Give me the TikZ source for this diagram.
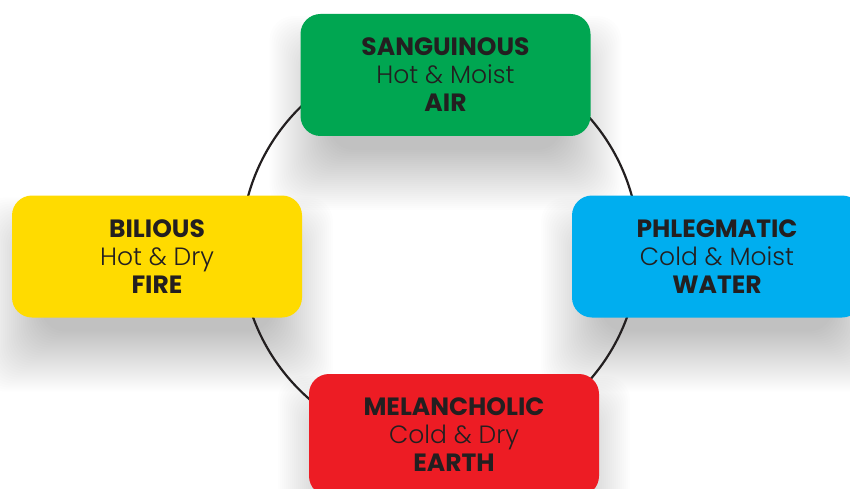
\documentclass[tikz,border=0pt]{standalone}
\usepackage{fontspec}
\setmainfont{Poppins}
\newfontfamily\lightfont{Poppins Light}
\definecolor{ink}{HTML}{231F20}
\definecolor{airgreen}{HTML}{00A651}
\definecolor{fireyellow}{HTML}{FFDB00}
\definecolor{waterblue}{HTML}{00AEEF}
\definecolor{earthred}{HTML}{ED1C24}
\newcommand\softshadow[2]{%
  \foreach \g in {-24,-22,...,36}{
    \fill[black,opacity=0.0068,rounded corners=24pt]
      ({#1-140-\g},{#2-61+38-\g}) rectangle ({#1+140+\g},{#2+61+38+\g});
  }}
\tikzset{
  humour/.style={rectangle, rounded corners=20pt, minimum width=290pt,
    minimum height=122pt, inner sep=0pt, align=center, text=ink,
    font=\fontsize{25}{28}\selectfont},
  ring/.style={draw=ink, line width=2.2pt}
}
\begin{document}
\begin{tikzpicture}[x=1pt,y=-1pt]
\useasboundingbox[fill=white] (0,0) rectangle (850,489);
\softshadow{445.5}{75}
\softshadow{157}{256.5}
\softshadow{717}{256.5}
\softshadow{454}{435}
\node[circle, minimum size=398pt, ring, inner sep=0pt] (cycle) at (440,249) {};
\node[humour, fill=airgreen] (air) at (445.5,75)
  {\textbf{SANGUINOUS}\\{\lightfont Hot \& Moist}\\\textbf{AIR}};
\node[humour, fill=fireyellow] (fire) at (157,256.5)
  {\textbf{BILIOUS}\\{\lightfont Hot \& Dry}\\\textbf{FIRE}};
\node[humour, fill=waterblue] (water) at (717,256.5)
  {\textbf{PHLEGMATIC}\\{\lightfont Cold \& Moist}\\\textbf{WATER}};
\node[humour, fill=earthred] (earth) at (454,435)
  {\textbf{MELANCHOLIC}\\{\lightfont Cold \& Dry}\\\textbf{EARTH}};
\end{tikzpicture}
\end{document}
